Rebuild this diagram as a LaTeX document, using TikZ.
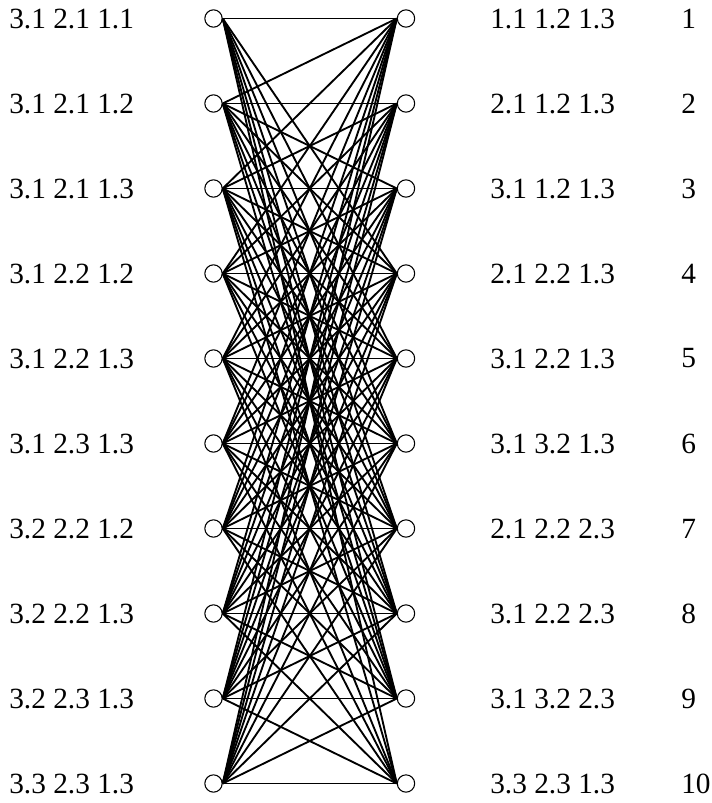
\documentclass[tikz,border=0pt]{standalone}
\usepackage{fontspec}
\setmainfont{Liberation Serif}
\begin{document}
\begin{tikzpicture}[x=0.75pt,y=-0.75pt,
  vtx/.style={circle,draw,line width=0.8pt,minimum size=13pt,inner sep=0pt},
  lbl/.style={anchor=west,inner sep=0pt,font=\fontsize{22}{24}\selectfont},
  conn/.style={line width=1.4pt}]
\useasboundingbox (0,0) rectangle (712,803);
\foreach \i/\lab/\rlab in {1/{3.1 2.1 1.1}/{1.1 1.2 1.3},2/{3.1 2.1 1.2}/{2.1 1.2 1.3},3/{3.1 2.1 1.3}/{3.1 1.2 1.3},4/{3.1 2.2 1.2}/{2.1 2.2 1.3},5/{3.1 2.2 1.3}/{3.1 2.2 1.3},6/{3.1 2.3 1.3}/{3.1 3.2 1.3},7/{3.2 2.2 1.2}/{2.1 2.2 2.3},8/{3.2 2.2 1.3}/{3.1 2.2 2.3},9/{3.2 2.3 1.3}/{3.1 3.2 2.3},10/{3.3 2.3 1.3}/{3.3 2.3 1.3}}{
  \pgfmathsetmacro\yy{18.5+85*(\i-1)}
  \node[vtx] (L\i) at (213.5,\yy) {};
  \node[vtx] (R\i) at (406,\yy) {};
  \node[lbl] (ll\i) at (9,\yy) {\lab};
  \node[lbl] (rl\i) at (490,\yy) {\rlab};
  \node[lbl] (n\i) at (681,\yy) {\i};
}
\foreach \a/\bs in {1/{1,4,5,6,7,8,9,10},2/{1,2,3,4,5,6,7,8,9},3/{1,2,3,4,5,6,7,8,9,10},4/{1,2,3,4,5,6,7,8,9},5/{1,2,3,4,5,6,7,8,9,10},6/{1,2,3,4,5,6,7,8,9,10},7/{1,2,3,4,5,6,7,8,9,10},8/{1,2,3,4,5,6,7,8,9,10},9/{1,2,3,4,5,6,7,8,9,10},10/{1,2,3,4,5,6,7,8,9,10}}{
  \foreach \b in \bs { \draw[conn] (L\a.east) -- (R\b.west); }
}
\end{tikzpicture}
\end{document}
